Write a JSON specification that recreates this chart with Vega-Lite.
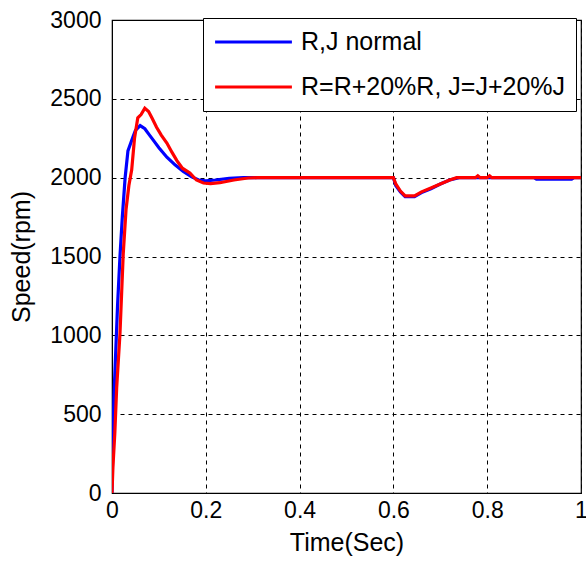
{
  "$schema": "https://vega.github.io/schema/vega-lite/v6.json",
  "width": 469,
  "height": 473,
  "autosize": {"type": "none"},
  "padding": {"left": 112, "top": 20, "right": 5, "bottom": 70},
  "background": "white",
  "config": {
    "font": "Liberation Sans",
    "view": {"stroke": "black", "strokeWidth": 1.2},
    "axis": {
      "labelFont": "Liberation Sans",
      "labelFontSize": 23,
      "labelColor": "black",
      "titleFont": "Liberation Sans",
      "titleFontSize": 25,
      "titleFontWeight": "normal",
      "titleColor": "black",
      "domainColor": "black",
      "gridColor": "black",
      "gridDash": [4, 4],
      "gridOpacity": 1,
      "gridWidth": 1,
      "ticks": false
    }
  },
  "data": {
    "values": [
      {"t": 0, "speed": 0, "s": "R,J normal"},
      {"t": 0.002, "speed": 350, "s": "R,J normal"},
      {"t": 0.004, "speed": 600, "s": "R,J normal"},
      {"t": 0.008, "speed": 900, "s": "R,J normal"},
      {"t": 0.012, "speed": 1200, "s": "R,J normal"},
      {"t": 0.017, "speed": 1500, "s": "R,J normal"},
      {"t": 0.022, "speed": 1750, "s": "R,J normal"},
      {"t": 0.028, "speed": 2000, "s": "R,J normal"},
      {"t": 0.034, "speed": 2170, "s": "R,J normal"},
      {"t": 0.04, "speed": 2220, "s": "R,J normal"},
      {"t": 0.045, "speed": 2260, "s": "R,J normal"},
      {"t": 0.05, "speed": 2300, "s": "R,J normal"},
      {"t": 0.06, "speed": 2330, "s": "R,J normal"},
      {"t": 0.07, "speed": 2310, "s": "R,J normal"},
      {"t": 0.08, "speed": 2270, "s": "R,J normal"},
      {"t": 0.09, "speed": 2230, "s": "R,J normal"},
      {"t": 0.1, "speed": 2190, "s": "R,J normal"},
      {"t": 0.117, "speed": 2130, "s": "R,J normal"},
      {"t": 0.135, "speed": 2080, "s": "R,J normal"},
      {"t": 0.152, "speed": 2040, "s": "R,J normal"},
      {"t": 0.17, "speed": 2005, "s": "R,J normal"},
      {"t": 0.185, "speed": 1985, "s": "R,J normal"},
      {"t": 0.2, "speed": 1980, "s": "R,J normal"},
      {"t": 0.22, "speed": 1985, "s": "R,J normal"},
      {"t": 0.25, "speed": 1995, "s": "R,J normal"},
      {"t": 0.28, "speed": 2000, "s": "R,J normal"},
      {"t": 0.6, "speed": 2000, "s": "R,J normal"},
      {"t": 0.605, "speed": 1950, "s": "R,J normal"},
      {"t": 0.615, "speed": 1910, "s": "R,J normal"},
      {"t": 0.625, "speed": 1880, "s": "R,J normal"},
      {"t": 0.645, "speed": 1880, "s": "R,J normal"},
      {"t": 0.66, "speed": 1905, "s": "R,J normal"},
      {"t": 0.68, "speed": 1930, "s": "R,J normal"},
      {"t": 0.7, "speed": 1960, "s": "R,J normal"},
      {"t": 0.72, "speed": 1985, "s": "R,J normal"},
      {"t": 0.74, "speed": 2000, "s": "R,J normal"},
      {"t": 0.9, "speed": 2000, "s": "R,J normal"},
      {"t": 0.905, "speed": 1990, "s": "R,J normal"},
      {"t": 0.98, "speed": 1990, "s": "R,J normal"},
      {"t": 0.985, "speed": 2000, "s": "R,J normal"},
      {"t": 1.0, "speed": 2000, "s": "R,J normal"},
      {"t": 0, "speed": 0, "s": "R=R+20%R, J=J+20%J"},
      {"t": 0.002, "speed": 165, "s": "R=R+20%R, J=J+20%J"},
      {"t": 0.006, "speed": 380, "s": "R=R+20%R, J=J+20%J"},
      {"t": 0.01, "speed": 670, "s": "R=R+20%R, J=J+20%J"},
      {"t": 0.017, "speed": 1010, "s": "R=R+20%R, J=J+20%J"},
      {"t": 0.024, "speed": 1520, "s": "R=R+20%R, J=J+20%J"},
      {"t": 0.03, "speed": 1800, "s": "R=R+20%R, J=J+20%J"},
      {"t": 0.036, "speed": 1950, "s": "R=R+20%R, J=J+20%J"},
      {"t": 0.042, "speed": 2050, "s": "R=R+20%R, J=J+20%J"},
      {"t": 0.048, "speed": 2250, "s": "R=R+20%R, J=J+20%J"},
      {"t": 0.055, "speed": 2380, "s": "R=R+20%R, J=J+20%J"},
      {"t": 0.062, "speed": 2400, "s": "R=R+20%R, J=J+20%J"},
      {"t": 0.07, "speed": 2440, "s": "R=R+20%R, J=J+20%J"},
      {"t": 0.078, "speed": 2420, "s": "R=R+20%R, J=J+20%J"},
      {"t": 0.085, "speed": 2380, "s": "R=R+20%R, J=J+20%J"},
      {"t": 0.095, "speed": 2320, "s": "R=R+20%R, J=J+20%J"},
      {"t": 0.105, "speed": 2270, "s": "R=R+20%R, J=J+20%J"},
      {"t": 0.117, "speed": 2220, "s": "R=R+20%R, J=J+20%J"},
      {"t": 0.128, "speed": 2160, "s": "R=R+20%R, J=J+20%J"},
      {"t": 0.138, "speed": 2110, "s": "R=R+20%R, J=J+20%J"},
      {"t": 0.15, "speed": 2060, "s": "R=R+20%R, J=J+20%J"},
      {"t": 0.166, "speed": 2030, "s": "R=R+20%R, J=J+20%J"},
      {"t": 0.18, "speed": 1985, "s": "R=R+20%R, J=J+20%J"},
      {"t": 0.195, "speed": 1966, "s": "R=R+20%R, J=J+20%J"},
      {"t": 0.21, "speed": 1962, "s": "R=R+20%R, J=J+20%J"},
      {"t": 0.23, "speed": 1968, "s": "R=R+20%R, J=J+20%J"},
      {"t": 0.26, "speed": 1985, "s": "R=R+20%R, J=J+20%J"},
      {"t": 0.29, "speed": 1998, "s": "R=R+20%R, J=J+20%J"},
      {"t": 0.31, "speed": 2000, "s": "R=R+20%R, J=J+20%J"},
      {"t": 0.6, "speed": 2000, "s": "R=R+20%R, J=J+20%J"},
      {"t": 0.605, "speed": 1960, "s": "R=R+20%R, J=J+20%J"},
      {"t": 0.615, "speed": 1915, "s": "R=R+20%R, J=J+20%J"},
      {"t": 0.625, "speed": 1885, "s": "R=R+20%R, J=J+20%J"},
      {"t": 0.645, "speed": 1885, "s": "R=R+20%R, J=J+20%J"},
      {"t": 0.66, "speed": 1910, "s": "R=R+20%R, J=J+20%J"},
      {"t": 0.68, "speed": 1935, "s": "R=R+20%R, J=J+20%J"},
      {"t": 0.7, "speed": 1960, "s": "R=R+20%R, J=J+20%J"},
      {"t": 0.72, "speed": 1985, "s": "R=R+20%R, J=J+20%J"},
      {"t": 0.735, "speed": 2000, "s": "R=R+20%R, J=J+20%J"},
      {"t": 0.775, "speed": 2000, "s": "R=R+20%R, J=J+20%J"},
      {"t": 0.78, "speed": 2012, "s": "R=R+20%R, J=J+20%J"},
      {"t": 0.785, "speed": 2000, "s": "R=R+20%R, J=J+20%J"},
      {"t": 0.8, "speed": 2000, "s": "R=R+20%R, J=J+20%J"},
      {"t": 0.805, "speed": 2012, "s": "R=R+20%R, J=J+20%J"},
      {"t": 0.81, "speed": 2000, "s": "R=R+20%R, J=J+20%J"},
      {"t": 1.0, "speed": 2000, "s": "R=R+20%R, J=J+20%J"}
    ]
  },
  "mark": {"type": "line", "strokeWidth": 3.2, "interpolate": "linear", "clip": true},
  "encoding": {
    "x": {
      "field": "t", "type": "quantitative",
      "scale": {"domain": [0, 1], "nice": false},
      "axis": {"values": [0, 0.2, 0.4, 0.6, 0.8, 1], "format": "~g", "labelPadding": 6, "title": "Time(Sec)", "titlePadding": 8, "labelFlush": false}
    },
    "y": {
      "field": "speed", "type": "quantitative",
      "scale": {"domain": [0, 3000], "nice": false},
      "axis": {"values": [0, 500, 1000, 1500, 2000, 2500, 3000], "format": "d", "labelPadding": 11, "title": "Speed(rpm)", "titlePadding": 15, "labelFlush": false}
    },
    "color": {
      "field": "s", "type": "nominal",
      "scale": {"domain": ["R,J normal", "R=R+20%R, J=J+20%J"], "range": ["#0000ff", "#ff0000"]},
      "legend": {
        "title": null,
        "orient": "none",
        "legendX": 91,
        "legendY": -2,
        "direction": "vertical",
        "symbolType": "stroke",
        "symbolSize": 5900,
        "symbolStrokeWidth": 3.2,
        "clipHeight": 28,
        "labelFontSize": 25,
        "labelFont": "Liberation Sans",
        "labelColor": "black",
        "labelOffset": 7,
        "rowPadding": 17,
        "padding": 10,
        "strokeColor": "black",
        "fillColor": "white",
        "labelLimit": 400
      }
    },
    "order": {"field": "s"}
  }
}
